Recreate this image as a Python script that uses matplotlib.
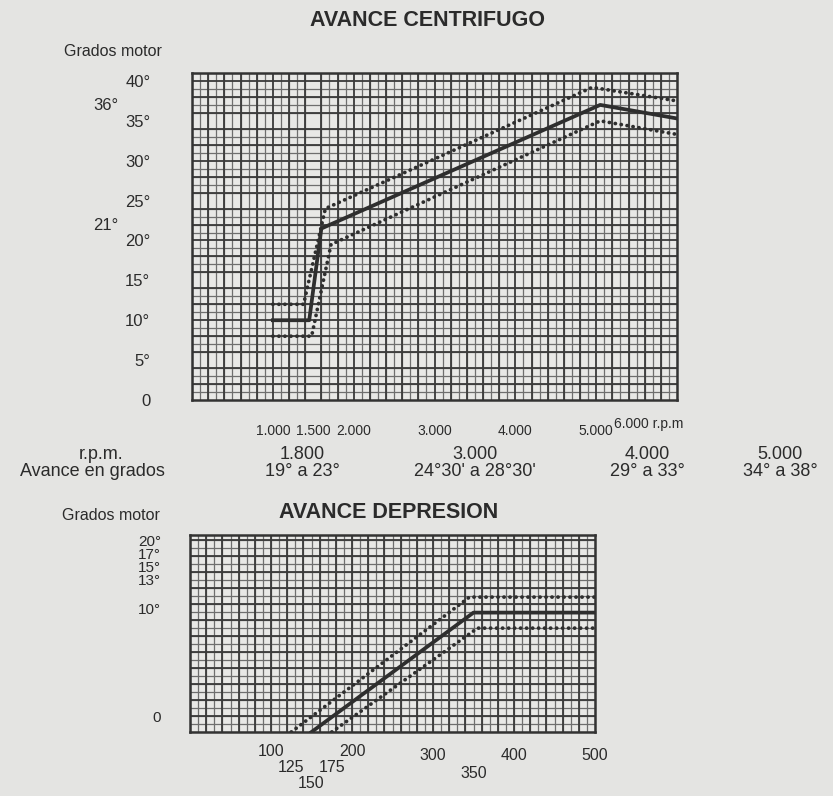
import matplotlib
matplotlib.use("Agg")
import matplotlib.pyplot as plt
from matplotlib.ticker import MultipleLocator
import matplotlib.transforms as mtransforms

# ---------------- data ----------------
# AVANCE CENTRIFUGO (rpm -> degrees)
cent_rpm_nom = [1000, 1450, 1600, 5050, 6000]
cent_deg_nom = [10, 10, 21.5, 37, 35.3]
cent_rpm_max = [1000, 1380, 1650, 4950, 6000]
cent_deg_max = [12, 12, 24, 39.2, 37.5]
cent_rpm_min = [1000, 1480, 1720, 5050, 6000]
cent_deg_min = [8, 8, 19.5, 35, 33.3]
cent_xticks = [1000, 1500, 2000, 3000, 4000, 5000]
cent_xticklabels = ["1.000", "1.500", "2.000", "3.000", "4.000", "5.000"]
cent_last_label = "6.000 r.p.m"
cent_yticks = [0, 5, 10, 15, 20, 25, 30, 35, 40]
cent_yticklabels = ["0", "5°", "10°", "15°", "20°", "25°", "30°", "35°", "40°"]
cent_marks = [36, 21]
cent_mark_labels = ["36°", "21°"]

# table
table_rpm = ["1.800", "3.000", "4.000", "5.000"]
table_deg = ["19° a 23°", "24°30' a 28°30'", "29° a 33°", "34° a 38°"]

# AVANCE DEPRESION (mmHg -> degrees)
dep_p_nom = [150, 350, 500]
dep_deg_nom = [0, 10, 10]
dep_p_max = [125, 345, 500]
dep_deg_max = [0, 11.3, 11.3]
dep_p_min = [175, 355, 500]
dep_deg_min = [0, 8.7, 8.7]
dep_xlabels = ["100", "125", "150", "175", "200", "300", "350", "400", "500"]
dep_xvalues = [100, 125, 150, 175, 200, 300, 350, 400, 500]
dep_ylabels = ["20°", "17°", "15°", "13°", "10°", "0"]

# ---------------- style ----------------
BG = "#e4e4e2"
GRID_MINOR = "#6e6e6e"
GRID_MAJOR = "#3a3a3a"
LINE = "#2e2e2e"
TXT = "#2b2b2b"
FAM = ["Liberation Sans", "DejaVu Sans"]
DOT = (0, (0.05, 1.55))

plt.rcParams["font.family"] = FAM

fig = plt.figure(figsize=(8.33, 7.96), dpi=100, facecolor=BG)


def px_x(x):
    return x / 833.0


def px_y(y):
    return 1 - y / 796.0


def style_axes(ax, xminor, yminor):
    ax.set_facecolor("#e8e8e6")
    ax.xaxis.set_minor_locator(MultipleLocator(xminor))
    ax.yaxis.set_minor_locator(MultipleLocator(yminor))
    ax.grid(which="minor", color=GRID_MINOR, lw=0.9, zorder=1)
    for sp in ax.spines.values():
        sp.set_color("#333333")
        sp.set_linewidth(1.8)
    ax.tick_params(which="both", length=0)
    ax.set_axisbelow(True)


# ---------------- top chart ----------------
ax1 = fig.add_axes([px_x(192), px_y(400), px_x(677 - 192), (400 - 73) / 796.0])
ax1.set_xlim(0, 6000)
ax1.set_ylim(0, 41)
style_axes(ax1, 100, 1)
for xv in range(200, 6000, 200):
    ax1.axvline(xv, color=GRID_MAJOR, lw=1.3, zorder=1.5)
for yv in range(2, 41, 2):
    ax1.axhline(yv, color=GRID_MAJOR, lw=1.3, zorder=1.5)

ax1.plot(cent_rpm_nom, cent_deg_nom, color=LINE, lw=2.7, zorder=3)
ax1.plot(cent_rpm_max, cent_deg_max, color=LINE, lw=2.7, ls=DOT,
         dash_capstyle="round", zorder=3)
ax1.plot(cent_rpm_min, cent_deg_min, color=LINE, lw=2.7, ls=DOT,
         dash_capstyle="round", zorder=3)

ax1.set_xticks(cent_xticks)
ax1.set_xticklabels(cent_xticklabels, fontsize=10, color=TXT)
ax1.set_yticks(cent_yticks)
ax1.set_yticklabels(cent_yticklabels, fontsize=12, color=TXT)
ax1.tick_params(axis="x", pad=17)
ax1.tick_params(axis="y", pad=30)
tr1x = mtransforms.blended_transform_factory(ax1.transData, fig.transFigure)
ax1.text(5650, px_y(424), cent_last_label, ha="center", va="center", fontsize=10,
         color=TXT, transform=tr1x, clip_on=False)

tr1 = mtransforms.blended_transform_factory(fig.transFigure, ax1.transData)
for val, lab in zip(cent_marks, cent_mark_labels):
    ax1.text(px_x(106), val, lab, ha="center", va="bottom", fontsize=12, color=TXT,
             transform=tr1, clip_on=False)

fig.text(px_x(162), px_y(52), "Grados motor", ha="right", va="center", fontsize=11.5, color=TXT)
fig.text(px_x(428), px_y(21), "AVANCE CENTRIFUGO", ha="center", va="center", fontsize=15.5,
         fontweight="bold", color=TXT)

# ---------------- table ----------------
fig.text(px_x(101), px_y(455), "r.p.m.", ha="center", va="center", fontsize=13, color=TXT)
fig.text(px_x(92), px_y(472), "Avance en grados", ha="center", va="center", fontsize=13, color=TXT)
col_x = [302, 475, 647, 780]
for cx, r, d in zip(col_x, table_rpm, table_deg):
    fig.text(px_x(cx), px_y(455), r, ha="center", va="center", fontsize=13, color=TXT)
    fig.text(px_x(cx), px_y(472), d, ha="center", va="center", fontsize=13, color=TXT)

# ---------------- bottom chart ----------------
ax2 = fig.add_axes([px_x(190), px_y(732), px_x(595 - 190), (732 - 535) / 796.0])
ax2.set_xlim(0, 500)
ax2.set_ylim(0, 16.5)
ystep = 16.5 / 24.6
style_axes(ax2, 10, ystep)
for xv in range(20, 500, 20):
    ax2.axvline(xv, color=GRID_MAJOR, lw=1.3, zorder=1.5)
yv = 2 * ystep
while yv < 16.5:
    ax2.axhline(yv, color=GRID_MAJOR, lw=1.3, zorder=1.5)
    yv += 2 * ystep

ax2.plot(dep_p_nom, dep_deg_nom, color=LINE, lw=2.7, zorder=3)
ax2.plot(dep_p_max, dep_deg_max, color=LINE, lw=2.7, ls=DOT,
         dash_capstyle="round", zorder=3)
ax2.plot(dep_p_min, dep_deg_min, color=LINE, lw=2.7, ls=DOT,
         dash_capstyle="round", zorder=3)
ax2.set_xticks([])
ax2.set_yticks([])

# staggered x labels (pixel rows)
x_rows = {"100": 752, "125": 768, "150": 784, "175": 768, "200": 752,
          "300": 756, "350": 774, "400": 756, "500": 756}
tr2 = mtransforms.blended_transform_factory(ax2.transData, fig.transFigure)
for lab, val in zip(dep_xlabels, dep_xvalues):
    ax2.text(val, px_y(x_rows[lab]), lab, ha="center", va="center", fontsize=11.5,
             color=TXT, transform=tr2, clip_on=False)

y_rows = [542, 555, 568, 581, 610, 718]
for lab, yy in zip(dep_ylabels, y_rows):
    fig.text(px_x(161), px_y(yy), lab, ha="right", va="center", fontsize=11, color=TXT)

fig.text(px_x(160), px_y(515), "Grados motor", ha="right", va="center", fontsize=11.5, color=TXT)
fig.text(px_x(389), px_y(513), "AVANCE DEPRESION", ha="center", va="center", fontsize=15.5,
         fontweight="bold", color=TXT)

fig.savefig("out.png", dpi=100, facecolor=BG)
